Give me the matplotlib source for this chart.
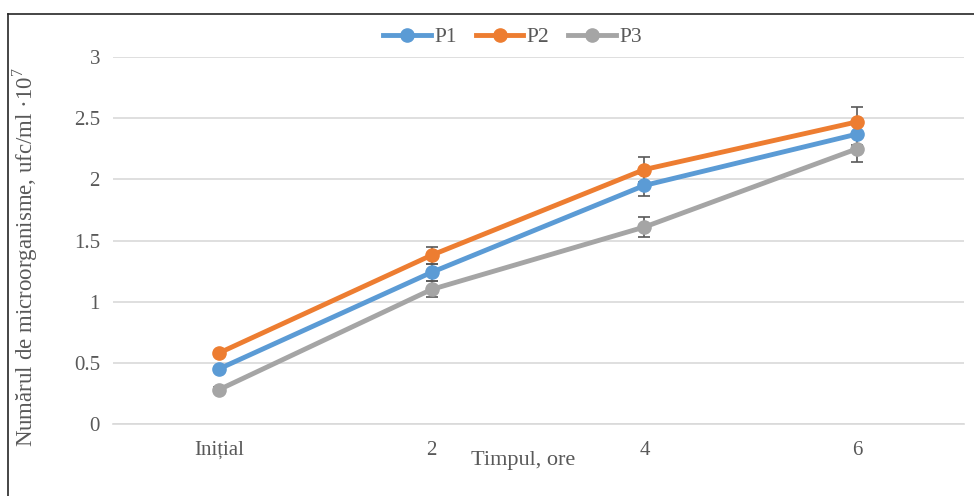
import matplotlib
matplotlib.use("Agg")
import matplotlib.pyplot as plt
from matplotlib.lines import Line2D

categories = ["Inițial", "2", "4", "6"]
p1 = [0.45, 1.24, 1.95, 2.37]
p2 = [0.58, 1.38, 2.08, 2.47]
p3 = [0.28, 1.10, 1.61, 2.25]
e1 = [0.02, 0.07, 0.09, 0.09]
e2 = [0.02, 0.07, 0.10, 0.12]
e3 = [0.02, 0.065, 0.08, 0.11]
yticks = [0, 0.5, 1, 1.5, 2, 2.5, 3]
ytick_labels = ["0", "0.5", "1", "1.5", "2", "2.5", "3"]

plt.rcParams['font.family'] = ['Liberation Serif', 'DejaVu Serif']
plt.rcParams['mathtext.fontset'] = 'custom'
plt.rcParams['mathtext.rm'] = 'Liberation Serif'

W, H = 974, 496
fig = plt.figure(figsize=(W / 100, H / 100), dpi=100)
ax = fig.add_axes([112.5 / W, 1 - 424 / H, (963.5 - 112.5) / W, (424 - 57) / H])

x = list(range(len(categories)))
colors = ["#5B9BD5", "#ED7D31", "#A5A5A5"]
for vals, errs, c, lab in [(p1, e1, colors[0], "P1"), (p2, e2, colors[1], "P2"), (p3, e3, colors[2], "P3")]:
    ax.errorbar(x, vals, yerr=errs, fmt='none', ecolor="#595959", elinewidth=1.2,
                capsize=4, capthick=1.2, zorder=2)
    ax.plot(x, vals, color=c, linewidth=3.5, marker='o', markersize=9.5, label=lab, zorder=3)

ax.set_xlim(-0.5, len(categories) - 0.5)
ax.set_ylim(0, 3)
ax.set_yticks(yticks)
ax.set_yticklabels(ytick_labels)
ax.set_xticks(x)
ax.set_xticklabels(categories)
ax.grid(axis='y', color="#D9D9D9", linewidth=1.2)
ax.set_axisbelow(True)
for s in ["top", "right", "left"]:
    ax.spines[s].set_visible(False)
ax.spines["bottom"].set_color("#D9D9D9")
ax.spines["bottom"].set_linewidth(1.2)
ax.tick_params(axis='both', length=0, labelsize=15, labelcolor="#595959")
ax.tick_params(axis='y', pad=9)
ax.tick_params(axis='x', pad=12)

ax.set_xlabel("Timpul, ore", fontsize=16, color="#595959")
ax.xaxis.set_label_coords((523 - 112.5) / 851, -(451 - 424) / 367)
ax.set_ylabel("Numărul de microorganisme, ufc/ml ·10$^{7}$", fontsize=16.5, color="#595959")
ax.yaxis.set_label_coords((40 - 112.5) / 851, (424 - 257) / 367)

leg = fig.legend(loc='center', bbox_to_anchor=(512.5 / W, 1 - 37 / H), ncol=3, frameon=False,
                 fontsize=15.5, handlelength=2.2, columnspacing=0.9, handletextpad=0.15,
                 borderpad=0, borderaxespad=0)
for t in leg.get_texts():
    t.set_color("#595959")

# frame (top and left edges only, as in the reference crop)
fig.add_artist(Line2D([7.5 / W, 1.0], [1 - 13.5 / H, 1 - 13.5 / H], transform=fig.transFigure,
                      color="#262626", linewidth=1.2))
fig.add_artist(Line2D([7.5 / W, 7.5 / W], [0.0, 1 - 13.5 / H], transform=fig.transFigure,
                      color="#262626", linewidth=1.2))

fig.savefig("out.png", dpi=100)
